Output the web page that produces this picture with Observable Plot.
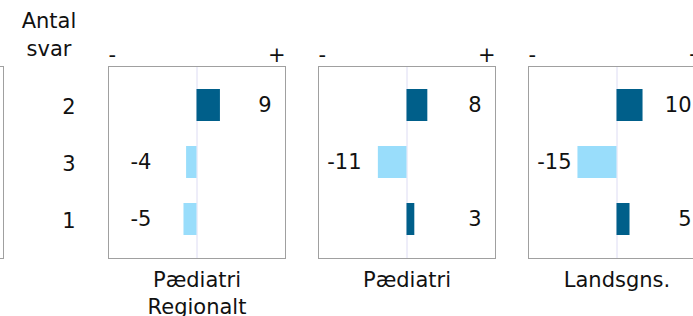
<!DOCTYPE html>
<html><head><meta charset="utf-8">
<script src="https://cdn.jsdelivr.net/npm/d3@7"></script>
<script src="https://cdn.jsdelivr.net/npm/@observablehq/plot@0.6"></script>
<style>
html,body{margin:0;padding:0;background:#fff;}
#wrap{position:relative;width:693px;height:316px;overflow:hidden;background:#fff;}
#wrap svg{position:absolute;top:0;max-width:none !important;}
</style></head><body><div id="wrap"></div>
<script>
const rowLabels = ["2", "3", "1"];
const panelNames = ["Pædiatri Regionalt", "Pædiatri", "Landsgns."];
const panelLabels = ["Pædiatri\nRegionalt", "Pædiatri", "Landsgns."];
const valuesRegionalt = [9, -4, -5];
const valuesPaediatri = [8, -11, 3];
const valuesLandsgns = [10, -15, 5];
const yTitle = "Antal\nsvar";
const signLabels = ["-", "+"];

const series = [valuesRegionalt, valuesPaediatri, valuesLandsgns];
const data = panelNames.flatMap((p, i) => rowLabels.map((r, j) => ({panel: p, row: r, value: series[i][j]})));

const font = "DejaVu Sans, Verdana, sans-serif";
const dark = "#005f8a", light = "#99ddfb";
const frameColor = "#a0a0a0";

const wrap = document.getElementById("wrap");

const main = Plot.plot({
  width: 720, height: 316,
  marginLeft: 107, marginRight: 15, marginTop: 66, marginBottom: 58,
  style: {fontFamily: font, fontSize: "21px", color: "#111", background: "transparent", overflow: "visible"},
  fx: {domain: panelNames, paddingInner: 0.159, paddingOuter: 0, axis: null},
  x: {domain: [-34, 34], axis: null},
  y: {domain: rowLabels, paddingInner: 0.434, paddingOuter: 0.39},
  marks: [
    Plot.ruleX([0], {stroke: "#dddcf3"}),
    Plot.barX(data, {fx: "panel", y: "row", x: "value", fill: d => d.value >= 0 ? dark : light}),
    Plot.frame({stroke: frameColor}),
    Plot.axisY({tickSize: 0, tickPadding: 33, dy: 2, label: null, fontSize: 21}),
    Plot.text([signLabels[0]], {frameAnchor: "top-left", textAnchor: "start", lineAnchor: "bottom", dy: -5}),
    Plot.text([signLabels[1]], {frameAnchor: "top-right", textAnchor: "end", lineAnchor: "bottom", dy: -5}),
    Plot.text(data.filter(d => d.value >= 0), {fx: "panel", y: "row", text: d => String(d.value), frameAnchor: "right", textAnchor: "end", dx: -14}),
    Plot.text(data.filter(d => d.value < 0), {fx: "panel", y: "row", text: d => String(d.value), frameAnchor: "left", textAnchor: "end", dx: 43}),
    Plot.text(panelNames, {fx: d => d, text: (d, i) => panelLabels[i], frameAnchor: "bottom", lineAnchor: "top", lineHeight: 1.27, dy: 10}),
    Plot.text([yTitle], {fx: () => panelNames[0], frameAnchor: "top-left", textAnchor: "middle", lineAnchor: "bottom", lineHeight: 1.3, dx: -59.5, dy: -11})
  ]
});
main.style.left = "0px";
wrap.appendChild(main);

const leftPanel = Plot.plot({
  width: 180, height: 316,
  marginLeft: 0, marginRight: 2, marginTop: 66, marginBottom: 58,
  style: {background: "transparent"},
  x: {domain: [0, 1], axis: null},
  y: {domain: [0, 1], axis: null},
  marks: [Plot.frame({stroke: frameColor})]
});
leftPanel.style.left = "-175px";
wrap.appendChild(leftPanel);
</script>
</body></html>
